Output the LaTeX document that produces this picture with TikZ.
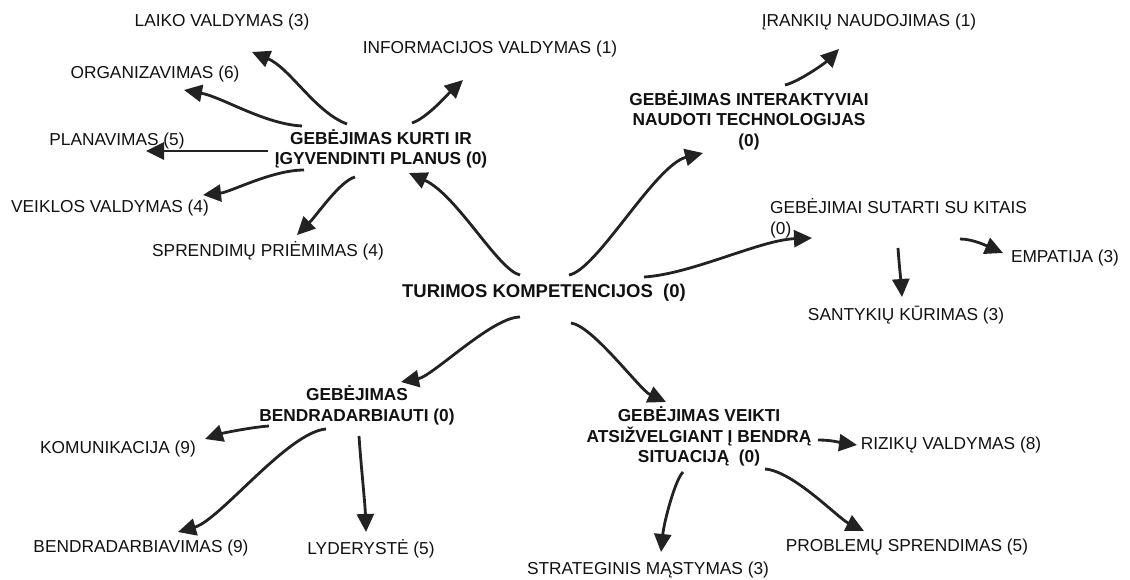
\documentclass[tikz,border=0pt]{standalone}
\usepackage{fontspec}
\setmainfont{Liberation Sans}
\usetikzlibrary{arrows.meta}
\definecolor{ink}{HTML}{111111}
\definecolor{wire}{HTML}{222222}
\tikzset{
  lbl/.style={font=\fontsize{17.3}{20.5}\selectfont, text=ink, inner sep=0pt, anchor=base},
  head/.style={font=\fontsize{17.3}{20.5}\selectfont\bfseries, text=ink, inner sep=0pt, align=center, anchor=center},
  root/.style={font=\fontsize{18.5}{22}\selectfont\bfseries, text=ink, inner sep=0pt, anchor=base},
  conn/.style={draw=wire, line width=2.8pt, -{Triangle[length=18pt,width=17pt]}},
}
\begin{document}
\begin{tikzpicture}[x=1pt,y=-1pt]
\useasboundingbox[fill=white] (0,0) rectangle (1130,579);

% central node
\node[root] (tur) at (544,297.6) {TURIMOS KOMPETENCIJOS~ (0)};

% planning branch
\node[head] (kurti) at (381,149) {GEBĖJIMAS KURTI IR\\ĮGYVENDINTI PLANUS (0)};
\node[lbl] (laiko) at (222,26.2) {LAIKO VALDYMAS (3)};
\node[lbl] (info) at (490,53.2) {INFORMACIJOS VALDYMAS (1)};
\node[lbl] (organiz) at (155,78.2) {ORGANIZAVIMAS (6)};
\node[lbl] (planav) at (117,145.2) {PLANAVIMAS (5)};
\node[lbl] (veiklos) at (110,212.2) {VEIKLOS VALDYMAS (4)};
\node[lbl] (sprend) at (268,256.2) {SPRENDIMŲ PRIĖMIMAS (4)};

% technology branch
\node[head] (interakt) at (749,120) {GEBĖJIMAS INTERAKTYVIAI\\NAUDOTI TECHNOLOGIJAS\\(0)};
\node[lbl] (irankiu) at (869,26.2) {ĮRANKIŲ NAUDOJIMAS (1)};

% social branch
\node[lbl, anchor=west, align=left] (sutarti) at (770,218.5) {GEBĖJIMAI SUTARTI SU KITAIS\\(0)};
\node[lbl] (empatija) at (1065,262.2) {EMPATIJA (3)};
\node[lbl] (santykiu) at (906,320.2) {SANTYKIŲ KŪRIMAS (3)};

% cooperation branch
\node[head] (bendr) at (357,405.5) {GEBĖJIMAS\\BENDRADARBIAUTI (0)};
\node[lbl] (komunik) at (118,453.2) {KOMUNIKACIJA (9)};
\node[lbl] (bendrav) at (141,552.2) {BENDRADARBIAVIMAS (9)};
\node[lbl] (lyder) at (371,554.2) {LYDERYSTĖ (5)};

% situation branch
\node[head] (veikti) at (699,436.5) {GEBĖJIMAS VEIKTI\\ATSIŽVELGIANT Į BENDRĄ\\SITUACIJĄ~ (0)};
\node[lbl] (rizik) at (951,449.2) {RIZIKŲ VALDYMAS (8)};
\node[lbl] (strateg) at (648,574.2) {STRATEGINIS MĄSTYMAS (3)};
\node[lbl] (problemu) at (907,551.2) {PROBLEMŲ SPRENDIMAS (5)};

% connectors
\draw[conn] ([shift={(-34,-25)}]kurti.center) .. controls +(-32,-12) and +(38,16) .. ([shift={(30,25.8)}]laiko.base);
\draw[conn] ([shift={(31,-26)}]kurti.center) .. controls +(15,-5) and +(-15,14) .. ([shift={(-27,26.8)}]info.base);
\draw[conn] ([shift={(-79,-23)}]kurti.center) .. controls +(-38,-2) and +(38,7) .. ([shift={(29,11.8)}]organiz.base);
\draw[conn] ([shift={(-113,2)}]kurti.center) -- ([shift={(29,5.8)}]planav.base);
\draw[conn] ([shift={(-77,21)}]kurti.center) .. controls +(-32,0) and +(28,-3) .. ([shift={(93,-17.2)}]veiklos.base);
\draw[conn] ([shift={(-26,28)}]kurti.center) .. controls +(-15,4) and +(20,-20) .. ([shift={(29,-21.2)}]sprend.base);
\draw[conn] ([shift={(-24,-22.6)}]tur.base) .. controls +(-22,-5) and +(48,22) .. ([shift={(28,24)}]kurti.center);

\draw[conn] ([shift={(36,-35)}]interakt.center) .. controls +(13,-3) and +(-15,15) .. ([shift={(-30,22.8)}]irankiu.base);
\draw[conn] ([shift={(25,-22.6)}]tur.base) .. controls +(28,-5) and +(-48,12) .. ([shift={(-46,33)}]interakt.center);

\draw[conn] ([shift={(100,-20.6)}]tur.base) .. controls +(48,-3) and +(-52,2) .. ([shift={(42,19.5)}]sutarti.west);
\draw[conn] ([shift={(190,20.5)}]sutarti.west) .. controls +(13,0) and +(-16,-7) .. ([shift={(-62,-9.2)}]empatija.base);
\draw[conn] ([shift={(128,29.5)}]sutarti.west) .. controls +(1,15) and +(-1,-15) .. ([shift={(-4,-23.2)}]santykiu.base);

\draw[conn] ([shift={(27,25.4)}]tur.base) .. controls +(22,3) and +(-26,-12) .. ([shift={(-33,-34.5)}]veikti.center);
\draw[conn] ([shift={(119,3.5)}]veikti.center) .. controls +(15,0) and +(-15,-2) .. ([shift={(-94,-4.2)}]rizik.base);
\draw[conn] ([shift={(-16,35.5)}]veikti.center) .. controls +(-8,8) and +(3,-30) .. ([shift={(13,-22.2)}]strateg.base);
\draw[conn] ([shift={(66,32.5)}]veikti.center) .. controls +(28,2) and +(-26,-13) .. ([shift={(-43,-20.2)}]problemu.base);

\draw[conn] ([shift={(-24,19.4)}]tur.base) .. controls +(-28,0) and +(32,-6) .. ([shift={(44,-23.5)}]bendr.center);
\draw[conn] ([shift={(-88,20.5)}]bendr.center) .. controls +(-16,1) and +(18,-6) .. ([shift={(87,-14.2)}]komunik.base);
\draw[conn] ([shift={(-31,23.5)}]bendr.center) .. controls +(-38,3) and +(42,-12) .. ([shift={(37,-20.2)}]bendrav.base);
\draw[conn] ([shift={(2,30.5)}]bendr.center) .. controls +(2,30) and +(-1,-30) .. ([shift={(-5,-22.2)}]lyder.base);
\end{tikzpicture}
\end{document}
